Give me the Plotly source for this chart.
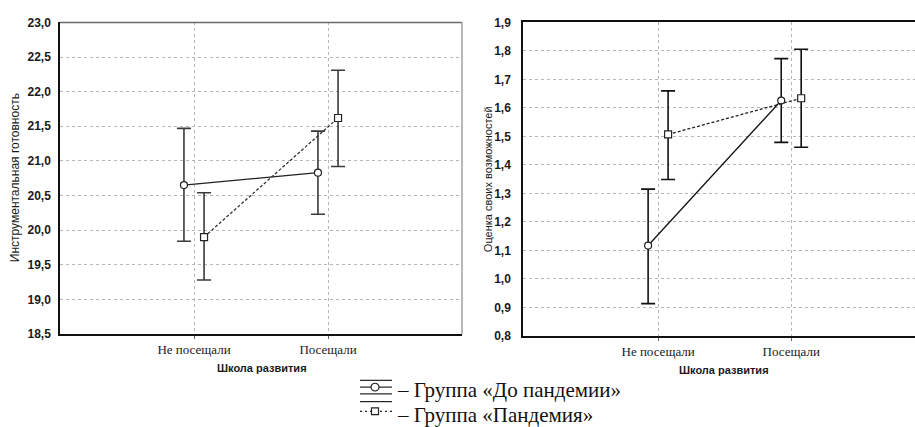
import plotly.graph_objects as go

W, H = 915, 427

categories = ["Не посещали", "Посещали"]

# Left panel: Инструментальная готовность
left_pre_mean = [20.65, 20.83]
left_pre_low = [19.84, 20.23]
left_pre_high = [21.47, 21.43]
left_pan_mean = [19.90, 21.62]
left_pan_low = [19.28, 20.92]
left_pan_high = [20.54, 22.31]
left_yticks = [18.5, 19.0, 19.5, 20.0, 20.5, 21.0, 21.5, 22.0, 22.5, 23.0]

# Right panel: Оценка своих возможностей
right_pre_mean = [1.117, 1.626]
right_pre_low = [0.913, 1.479]
right_pre_high = [1.315, 1.773]
right_pan_mean = [1.507, 1.634]
right_pan_low = [1.349, 1.462]
right_pan_high = [1.660, 1.806]
right_yticks = [0.8, 0.9, 1.0, 1.1, 1.2, 1.3, 1.4, 1.5, 1.6, 1.7, 1.8, 1.9]

legend_labels = ["– Группа «До пандемии»", "– Группа «Пандемия»"]


def px(x):
    return x / W


def py(y):
    return 1 - y / H


OFF = 0.075
xpos = list(range(len(categories)))

fig = go.Figure()


def add_series(mean, low, high, offset, xa, ya, symbol, dash, ecolor, lcolor, capw):
    fig.add_trace(go.Scatter(
        x=[i + offset for i in xpos], y=mean,
        xaxis=xa, yaxis=ya, mode="lines+markers",
        line=dict(color=lcolor, width=1.3, dash=dash),
        marker=dict(symbol=symbol, size=7, color="white",
                    line=dict(color="#222", width=1.2)),
        error_y=dict(type="data", symmetric=False,
                     array=[h - m for h, m in zip(high, mean)],
                     arrayminus=[m - l for m, l in zip(mean, low)],
                     color=ecolor, thickness=1.6, width=capw),
        showlegend=False, hoverinfo="skip",
    ))


add_series(left_pre_mean, left_pre_low, left_pre_high, -OFF, "x", "y",
           "circle", "solid", "#3a3a3a", "#222", 7)
add_series(left_pan_mean, left_pan_low, left_pan_high, OFF, "x", "y",
           "square", "3px,2px", "#3a3a3a", "#333", 7)
add_series(right_pre_mean, right_pre_low, right_pre_high, -OFF, "x2", "y2",
           "circle", "solid", "#111", "#111", 7)
add_series(right_pan_mean, right_pan_low, right_pan_high, OFF, "x2", "y2",
           "square", "3px,2px", "#111", "#222", 7)

tick_font = dict(family="Liberation Sans", size=12, color="#1a1a1a", weight="bold")
cat_font = dict(family="Liberation Serif", size=13, color="#1a1a1a")
grid = dict(showgrid=True, gridcolor="#b5b5b5", griddash="dot", gridwidth=1)

fig.update_layout(
    width=W, height=H, margin=dict(l=0, r=0, t=0, b=0),
    paper_bgcolor="white", plot_bgcolor="white",
    separators=", ",
    xaxis=dict(domain=[px(60), px(462)], range=[-1, 2], tickvals=xpos,
               ticktext=categories, tickfont=cat_font, showline=True,
               linecolor="#111", linewidth=1.5, ticks="outside", ticklen=3,
               tickcolor="#666", zeroline=False, anchor="y", **grid),
    yaxis=dict(domain=[py(338), py(16)], range=[18.5, 23.0], tickvals=left_yticks,
               tickformat=".1f", tickfont=tick_font, showline=True,
               linecolor="#111", linewidth=1.5, zeroline=False, ticks="",
               ticklabelstandoff=5, anchor="x", **grid),
    xaxis2=dict(domain=[px(523), 1.0], range=[-1.015, 1.93], tickvals=xpos,
                ticktext=categories, tickfont=cat_font, showline=True,
                linecolor="#111", linewidth=1.5, mirror=True, ticks="outside",
                ticklen=3, tickcolor="#666", zeroline=False, anchor="y2", **grid),
    yaxis2=dict(domain=[py(340), py(16)], range=[0.8, 1.9], tickvals=right_yticks,
                tickformat=".1f", tickfont=tick_font, showline=True,
                linecolor="#111", linewidth=1.5, zeroline=False, ticks="",
                ticklabelstandoff=8, anchor="x2", **grid),
)

# grey top/right frame of left panel
fig.add_shape(type="line", xref="paper", yref="paper", x0=px(60), x1=px(462),
              y0=py(16), y1=py(16), line=dict(color="#6a6a6a", width=1.3))
fig.add_shape(type="line", xref="paper", yref="paper", x0=px(462), x1=px(462),
              y0=py(16), y1=py(338), line=dict(color="#8a8a8a", width=1.2))

xt_font = dict(family="Liberation Sans", size=11, color="#1a1a1a", weight="bold")
fig.add_annotation(text="Инструментальная готовность", xref="paper", yref="paper",
                   x=px(15), y=py(177), textangle=-90, showarrow=False,
                   font=dict(family="Liberation Sans", size=12, color="#1a1a1a"),
                   xanchor="center", yanchor="middle")
fig.add_annotation(text="Оценка своих возможностей", xref="paper", yref="paper",
                   x=px(488), y=py(178), textangle=-90, showarrow=False,
                   font=dict(family="Liberation Sans", size=11, color="#1a1a1a"),
                   xanchor="center", yanchor="middle")
fig.add_annotation(text="Школа развития", xref="paper", yref="paper",
                   x=px(262), y=py(373), showarrow=False, font=xt_font,
                   xanchor="center", yanchor="middle")
fig.add_annotation(text="Школа развития", xref="paper", yref="paper",
                   x=px(724), y=py(375), showarrow=False, font=xt_font,
                   xanchor="center", yanchor="middle")

# manual legend
leg_font = dict(family="Liberation Serif", size=21, color="#111")
rows = [396, 422]
for yy, lab in zip(rows, legend_labels):
    fig.add_annotation(text=lab, xref="paper", yref="paper", x=px(395), y=py(yy),
                       showarrow=False, font=leg_font, xanchor="left",
                       yanchor="middle")


def hline(x0, x1, y, dash="solid", color="#222"):
    fig.add_shape(type="line", xref="paper", yref="paper", x0=px(x0), x1=px(x1),
                  y0=py(y), y1=py(y), line=dict(color=color, width=1.2, dash=dash))


hline(360, 392, 386)
hline(360, 392, 393)
hline(360, 392, 400)
fig.add_shape(type="circle", xref="paper", yref="paper", x0=px(371), x1=px(379),
              y0=py(397), y1=py(389), fillcolor="white",
              line=dict(color="#222", width=1.2))
hline(360, 392, 408)
hline(360, 392, 418, dash="2px,3px")
fig.add_shape(type="rect", xref="paper", yref="paper", x0=px(371.5), x1=px(378.5),
              y0=py(421.5), y1=py(414.5), fillcolor="white",
              line=dict(color="#222", width=1.2))

fig.write_html("out.html")
